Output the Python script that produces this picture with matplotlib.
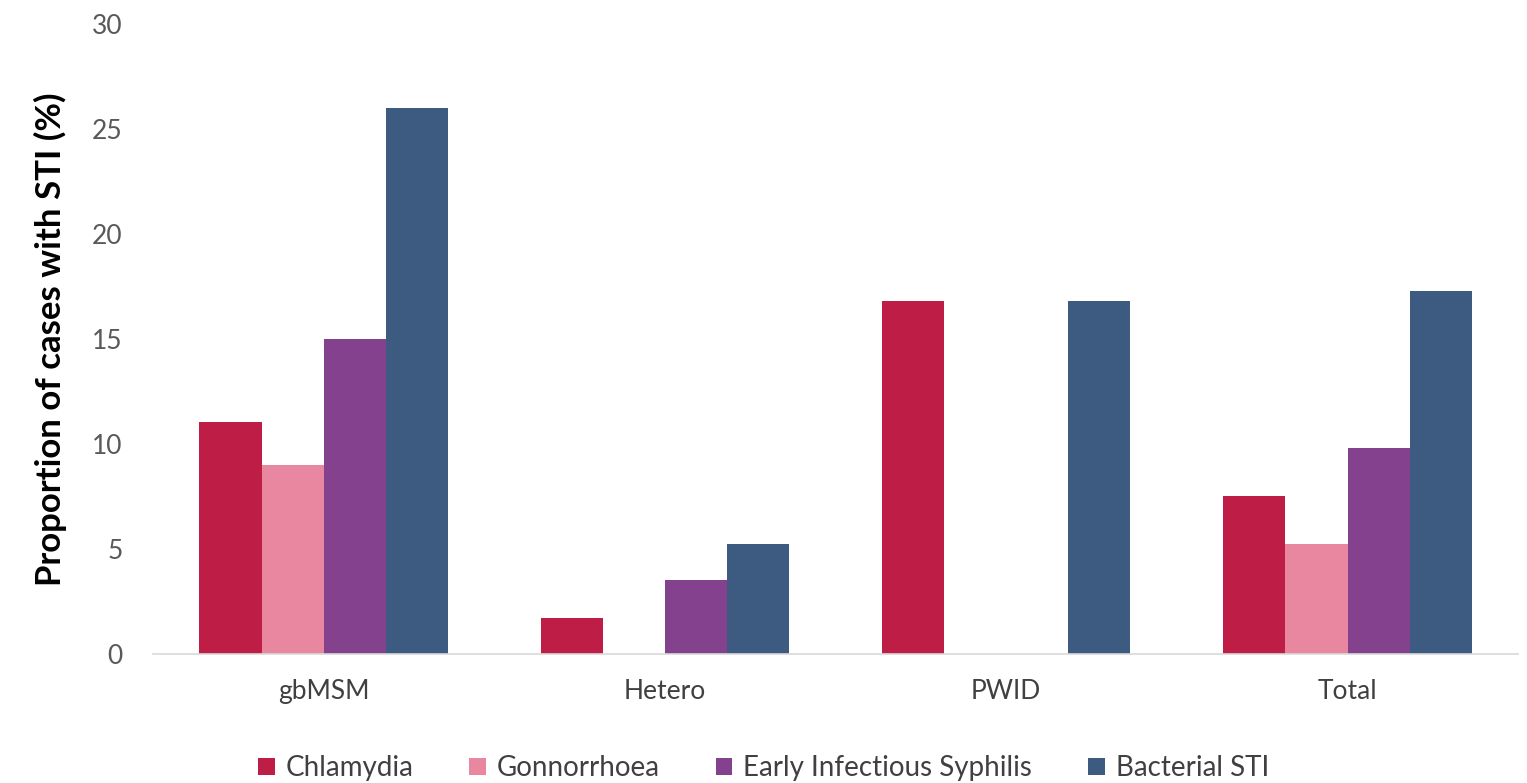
import matplotlib.pyplot as plt
import numpy as np

plt.rcParams['font.family'] = ['Lato', 'DejaVu Sans']

groups = ['gbMSM', 'Hetero', 'PWID', 'Total']
series = ['Chlamydia', 'Gonnorrhoea', 'Early Infectious Syphilis', 'Bacterial STI']
chlamydia = [11.05, 1.7, 16.8, 7.5]
gonorrhoea = [9.0, 0.0, 0.0, 5.25]
syphilis = [15.0, 3.5, 0.0, 9.8]
bacterial = [26.0, 5.25, 16.8, 17.3]
values = [chlamydia, gonorrhoea, syphilis, bacterial]
colors = ['#BE1E45', '#E8879F', '#84418E', '#3D5A80']

fig = plt.figure(figsize=(15.27, 7.83), dpi=100)
ax = fig.add_axes([0.1002, 0.1648, 0.894, 0.8045])

x = np.arange(len(groups))
bar_width = 0.182
for i, (name, vals) in enumerate(zip(series, values)):
    ax.bar(x + (i - 1.5) * bar_width, vals, width=bar_width, color=colors[i], label=name)

ax.set_xlim(-0.5, len(groups) - 0.5)
ax.set_ylim(0, 30)
ax.set_yticks(range(0, 31, 5))
ax.set_xticks(x)
ax.set_xticklabels(groups)
ax.tick_params(axis='both', length=0, labelsize=19, colors='#595959')
ax.tick_params(axis='x', pad=18, labelcolor='#404040')
ax.tick_params(axis='y', pad=22)

for s in ['top', 'right', 'left']:
    ax.spines[s].set_visible(False)
ax.spines['bottom'].set_color('#d9d9d9')
ax.spines['bottom'].set_linewidth(1.2)

ax.set_ylabel('Proportion of cases with STI (%)', fontsize=25, fontweight='bold', color='black', labelpad=18)

fig.legend(loc='center', bbox_to_anchor=(0.5, 0.019), ncol=4, frameon=False, fontsize=20,
           handlelength=0.6, handleheight=0.6, handletextpad=0.4, columnspacing=2.0,
           labelcolor='#404040')

plt.savefig('out.png', dpi=100)
